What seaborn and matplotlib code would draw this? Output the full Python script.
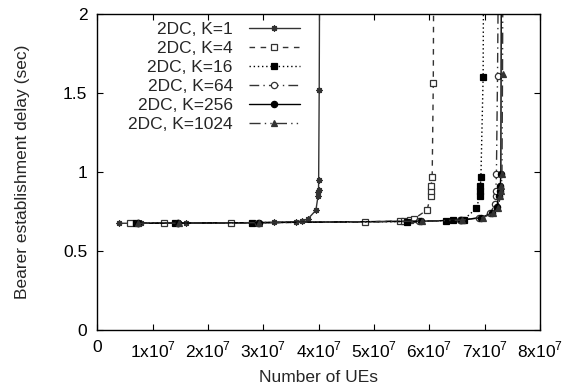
import matplotlib
matplotlib.use("Agg")
import matplotlib.pyplot as plt
import seaborn as sns

# x in units of 1e7 UEs, y in seconds
k1_x = [0.40, 0.80, 1.60, 3.20, 3.60, 3.70, 3.80, 3.95, 3.99, 3.995, 3.998, 4.00, 4.01, 4.02]
k1_y = [0.675, 0.675, 0.676, 0.680, 0.685, 0.690, 0.700, 0.757, 0.850, 0.870, 0.885, 0.950, 1.516, 2.5]

k4_x = [0.60, 1.21, 2.42, 4.84, 5.46, 5.55, 5.65, 5.73, 5.96, 6.02, 6.025, 6.03, 6.05, 6.07, 6.08]
k4_y = [0.675, 0.676, 0.678, 0.683, 0.690, 0.692, 0.695, 0.705, 0.760, 0.850, 0.880, 0.910, 0.970, 1.560, 2.5]

k16_x = [0.70, 1.40, 2.80, 5.60, 6.30, 6.42, 6.58, 6.62, 6.85, 6.91, 6.915, 6.92, 6.93, 6.97, 6.98]
k16_y = [0.675, 0.676, 0.679, 0.686, 0.692, 0.694, 0.696, 0.698, 0.770, 0.850, 0.880, 0.910, 0.970, 1.600, 2.5]

k64_x = [0.73, 1.46, 2.91, 5.82, 6.55, 6.90, 7.10, 7.19, 7.195, 7.20, 7.21, 7.23, 7.25]
k64_y = [0.675, 0.676, 0.679, 0.688, 0.695, 0.710, 0.740, 0.800, 0.850, 0.880, 0.990, 1.610, 2.5]

k256_x = [0.73, 1.46, 2.92, 5.84, 6.57, 6.93, 7.13, 7.22, 7.25, 7.27, 7.28, 7.29, 7.30]
k256_y = [0.675, 0.676, 0.679, 0.688, 0.695, 0.710, 0.740, 0.780, 0.850, 0.880, 0.910, 0.990, 2.5]

k1024_x = [0.74, 1.47, 2.93, 5.86, 6.59, 6.96, 7.15, 7.24, 7.28, 7.29, 7.30, 7.31, 7.32, 7.33]
k1024_y = [0.675, 0.676, 0.679, 0.688, 0.695, 0.710, 0.740, 0.770, 0.850, 0.880, 0.910, 0.990, 1.620, 2.5]

labels = ["2DC, K=1", "2DC, K=4", "2DC, K=16", "2DC, K=64", "2DC, K=256", "2DC, K=1024"]
xticks = [0, 1, 2, 3, 4, 5, 6, 7, 8]
yticks = [0, 0.5, 1, 1.5, 2]

sns.set_style("ticks")
plt.rcParams["font.family"] = ["Liberation Sans", "DejaVu Sans"]
plt.rcParams["mathtext.fontset"] = "custom"
plt.rcParams["mathtext.rm"] = "Liberation Sans"

fs = 12.5
fig = plt.figure(figsize=(5.68, 3.89), dpi=100)
ax = fig.add_axes([0.171, 0.152, 0.780, 0.812])

series = [
    (k1_x, k1_y, "-", (8, 2, 0), "#333333", "#333333"),
    (k4_x, k4_y, (0, (4, 4)), "s", "#333333", "white"),
    (k16_x, k16_y, (0, (1, 2)), "s", "black", "black"),
    (k64_x, k64_y, (0, (7, 3, 1, 3)), "o", "#333333", "white"),
    (k256_x, k256_y, "-", "o", "black", "black"),
    (k1024_x, k1024_y, (0, (8, 3, 1, 3, 1, 3)), "^", "#333333", "#333333"),
]

for (xs, ys, ls, mk, col, face), lab in zip(series, labels):
    sns.lineplot(x=xs, y=ys, ax=ax, sort=False, estimator=None, color=col,
                 linestyle=ls, marker=mk, markersize=4.5, markerfacecolor=face,
                 markeredgecolor=col, markeredgewidth=0.9, linewidth=1.0,
                 label=lab)

ax.set_xlim(0, 8)
ax.set_ylim(0, 2)
ax.set_xticks(xticks)
ax.set_xticklabels(["0"] + [f"{t}x10$^7$" for t in xticks[1:]])
ax.set_yticks(yticks)
ax.set_yticklabels(["0", "0.5", "1", "1.5", "2"])
ax.tick_params(direction="in", top=True, right=True, labelsize=fs, length=4,
               width=0.8, pad=7, colors="black")
for sp in ax.spines.values():
    sp.set_visible(True)
    sp.set_linewidth(1.0)
    sp.set_color("black")

ax.set_xlabel("Number of UEs", fontsize=fs, labelpad=7)
ax.set_ylabel("Bearer establishment delay (sec)", fontsize=fs, labelpad=24)

leg = ax.legend(loc="upper left", bbox_to_anchor=(0.07, 0.974), frameon=False,
                markerfirst=False, fontsize=fs, handlelength=2.9,
                handletextpad=0.95, labelspacing=0.22, borderaxespad=0.0,
                borderpad=0.0)
# right-align the rows so labels end flush against the line samples
for col in leg._legend_handle_box.get_children():
    col.align = "right"

fig.savefig("out.png", dpi=100)
